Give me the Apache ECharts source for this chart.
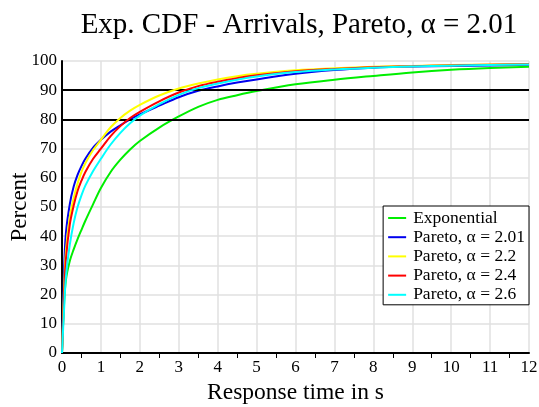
<!DOCTYPE html>
<html>
<head>
<meta charset="utf-8">
<script src="https://cdn.jsdelivr.net/npm/echarts@6/dist/echarts.min.js"></script>
<style>html,body{margin:0;padding:0;background:#fff}#c{width:539px;height:407px}</style>
</head>
<body>
<div id="c"></div>
<script>
const xs = [0, 0.05, 0.1, 0.2, 0.3, 0.4, 0.5, 0.6, 0.8, 1.0, 1.25, 1.5, 1.75, 2, 2.5, 3, 3.5, 4, 4.5, 5, 6, 7, 8, 9, 10, 11, 12];
const expo  = [0, 16, 25, 31.5, 35.5, 39, 42.2, 45.3, 51, 56.5, 62, 66.2, 69.7, 72.6, 77.2, 81, 84.3, 86.7, 88.3, 89.7, 92, 93.6, 94.9, 96.1, 97, 97.6, 98];
const p201  = [0, 27, 41, 51, 57, 61, 64, 66.5, 70.3, 73, 75.8, 78, 80, 81.7, 84.7, 87.6, 89.8, 91.3, 92.6, 93.7, 95.6, 96.9, 97.7, 98.1, 98.3, 98.5, 98.7];
const p22   = [0, 21, 35, 46.5, 53, 58, 62, 65, 69.5, 73, 77.3, 80.5, 83, 85, 88.2, 90.6, 92.3, 93.7, 94.8, 95.6, 96.8, 97.5, 98, 98.3, 98.6, 98.8, 99];
const p24   = [0, 18, 32, 44, 50.5, 55.5, 59, 62, 66.5, 70, 74.3, 77.7, 80.5, 82.6, 86.2, 89.2, 91.4, 92.9, 94.1, 95.1, 96.5, 97.3, 97.9, 98.2, 98.5, 98.7, 98.9];
const p26   = [0, 14, 26, 37, 44.5, 50, 54, 57.3, 62.3, 66.5, 71.4, 75.4, 78.7, 81.3, 85.2, 88.4, 90.7, 92.3, 93.6, 94.7, 96.2, 97.1, 97.7, 98.1, 98.4, 98.6, 98.8];
const names = ['Exponential', 'Pareto, α = 2.01', 'Pareto, α = 2.2', 'Pareto, α = 2.4', 'Pareto, α = 2.6'];
const colors = ['#00ee00', '#0000ee', '#ffff00', '#ff0000', '#00ffff'];
const refLines = [80, 90];
const allData = [expo, p201, p22, p24, p26];

const font = 'Liberation Serif, Times New Roman, serif';
const series = allData.map((d, i) => ({
  name: names[i],
  type: 'line',
  data: xs.map((x, j) => [x, d[j]]),
  smooth: 0.35,
  showSymbol: false,
  lineStyle: { color: colors[i], width: 2 },
  itemStyle: { color: colors[i] },
  z: 3 + i
}));
series[0].markLine = {
  silent: true,
  symbol: ['none', 'none'],
  label: { show: false },
  lineStyle: { color: '#000', width: 2, type: 'solid' },
  data: refLines.map(v => ({ yAxis: v }))
};

const chart = echarts.init(document.getElementById('c'));
chart.setOption({
  animation: false,
  backgroundColor: '#fff',
  title: {
    text: 'Exp. CDF - Arrivals, Pareto, α = 2.01',
    left: 294, top: 6, textAlign: 'center',
    textStyle: { fontFamily: font, fontSize: 29, fontWeight: 'normal', color: '#000' }
  },
  grid: { left: 62, right: 10, top: 61, bottom: 54, containLabel: false, outerBoundsMode: 'none' },
  legend: {
    orient: 'vertical', right: 10, top: 206,
    backgroundColor: '#fff', borderColor: '#000', borderWidth: 1,
    padding: [3, 4, 1, 5],
    itemGap: 1.2, itemWidth: 18, itemHeight: 2, icon: 'rect',
    textStyle: { fontFamily: font, fontSize: 17.5, color: '#000', padding: [0, 0, 0, 2] },
    data: names
  },
  xAxis: {
    type: 'value', min: 0, max: 12, interval: 1,
    name: 'Response time in s', nameLocation: 'middle', nameGap: 28, nameMoveOverlap: false,
    nameTextStyle: { fontFamily: font, fontSize: 23.5, color: '#000' },
    axisLine: { lineStyle: { color: '#000', width: 2 } },
    axisTick: { show: false },
    minorTick: { show: true, splitNumber: 2, length: 5, lineStyle: { color: '#000', width: 1 } },
    axisLabel: { fontFamily: font, fontSize: 17, color: '#000', margin: 6 },
    splitLine: { show: true, lineStyle: { color: '#e0e0e0', width: 1.5 } }
  },
  yAxis: {
    type: 'value', min: 0, max: 100, interval: 10,
    name: 'Percent', nameLocation: 'middle', nameGap: 31, nameMoveOverlap: false,
    nameTextStyle: { fontFamily: font, fontSize: 23, color: '#000' },
    axisLine: { show: true, lineStyle: { color: '#000', width: 2 } },
    axisTick: { show: false },
    axisLabel: { fontFamily: font, fontSize: 17, color: '#000', margin: 5 },
    splitLine: { show: true, lineStyle: { color: '#e0e0e0', width: 1.5 } }
  },
  series: series
});
</script>
</body>
</html>
